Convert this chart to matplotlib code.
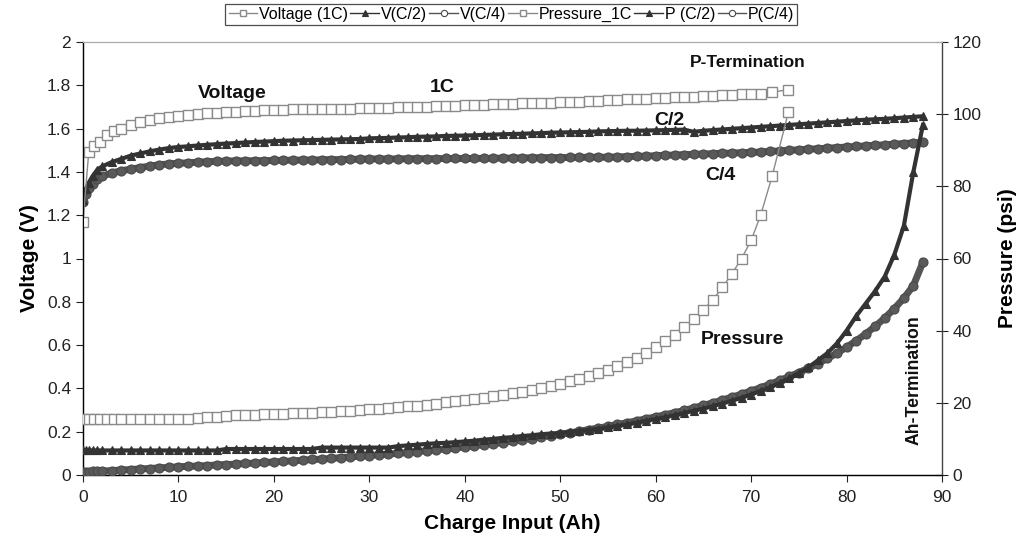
import matplotlib
matplotlib.use("Agg")
import matplotlib.pyplot as plt
from matplotlib.lines import Line2D

plt.rcParams['font.family'] = ['Liberation Sans', 'DejaVu Sans']

# ---------------- data ----------------
# 1C charge (voltage and pressure share the charge-input axis)
ah_1c = [0, 0.6, 1.2, 1.8, 2.5, 3.2, 4, 5, 6, 7, 8, 9, 10, 11, 12, 13, 14, 15, 16, 17,
         18, 19, 20, 21, 22, 23, 24, 25, 26, 27, 28, 29, 30, 31, 32, 33, 34, 35, 36, 37,
         38, 39, 40, 41, 42, 43, 44, 45, 46, 47, 48, 49, 50, 51, 52, 53, 54, 55, 56, 57,
         58, 59, 60, 61, 62, 63, 64, 65, 66, 67, 68, 69, 70, 71, 72.2, 73.9]
volt_1c = [1.17, 1.49, 1.52, 1.54, 1.57, 1.59, 1.60, 1.615, 1.63, 1.64, 1.648, 1.655, 1.66,
           1.665, 1.668, 1.671, 1.674, 1.676, 1.678, 1.68, 1.682, 1.684, 1.686, 1.688, 1.69,
           1.69, 1.69, 1.69, 1.69, 1.692, 1.692, 1.694, 1.695, 1.696, 1.697, 1.698, 1.699,
           1.70, 1.701, 1.703, 1.704, 1.706, 1.707, 1.709, 1.71, 1.712, 1.713, 1.715, 1.716,
           1.718, 1.719, 1.72, 1.722, 1.723, 1.725, 1.726, 1.728, 1.73, 1.732, 1.735, 1.736,
           1.738, 1.74, 1.742, 1.744, 1.746, 1.748, 1.75, 1.752, 1.754, 1.756, 1.758, 1.76,
           1.762, 1.768, 1.78]
pres_1c = [15.6, 15.6, 15.6, 15.6, 15.6, 15.6, 15.6, 15.6, 15.6, 15.6, 15.6, 15.6, 15.6,
           15.6, 15.8, 16.0, 16.2, 16.4, 16.5, 16.6, 16.7, 16.8, 16.9, 17.0, 17.1, 17.2,
           17.3, 17.4, 17.5, 17.7, 17.8, 18.0, 18.2, 18.4, 18.6, 18.8, 19.0, 19.2, 19.5,
           19.8, 20.1, 20.4, 20.7, 21.0, 21.4, 21.8, 22.2, 22.6, 23.1, 23.6, 24.1, 24.7,
           25.3, 26.0, 26.7, 27.5, 28.3, 29.2, 30.2, 31.3, 32.5, 33.9, 35.4, 37.0, 38.9,
           41.0, 43.3, 45.8, 48.6, 52.0, 55.8, 60.0, 65.0, 72.0, 82.8, 100.5]

# C/2 and C/4 charges
ah_slow = [0, 0.3, 0.6, 1, 1.5, 2, 3, 4, 5, 6, 7, 8, 9, 10, 11, 12, 13, 14, 15, 16, 17,
           18, 19, 20, 21, 22, 23, 24, 25, 26, 27, 28, 29, 30, 31, 32, 33, 34, 35, 36, 37,
           38, 39, 40, 41, 42, 43, 44, 45, 46, 47, 48, 49, 50, 51, 52, 53, 54, 55, 56, 57,
           58, 59, 60, 61, 62, 63, 64, 65, 66, 67, 68, 69, 70, 71, 72, 73, 74, 75, 76, 77,
           78, 79, 80, 81, 82, 83, 84, 85, 86, 87, 88]
volt_c2 = [1.27, 1.32, 1.35, 1.38, 1.41, 1.425, 1.445, 1.46, 1.475, 1.485, 1.495, 1.503,
           1.51, 1.515, 1.518, 1.522, 1.525, 1.528, 1.531, 1.533, 1.536, 1.538, 1.54, 1.542,
           1.544, 1.545, 1.546, 1.547, 1.548, 1.549, 1.55, 1.551, 1.552, 1.555, 1.556,
           1.557, 1.559, 1.56, 1.562, 1.563, 1.564, 1.566, 1.567, 1.568, 1.569, 1.571,
           1.572, 1.574, 1.575, 1.576, 1.578, 1.579, 1.581, 1.582, 1.583, 1.584, 1.585,
           1.587, 1.588, 1.589, 1.59, 1.59, 1.591, 1.592, 1.593, 1.594, 1.595, 1.585, 1.59,
           1.593, 1.596, 1.599, 1.602, 1.605, 1.608, 1.611, 1.614, 1.617, 1.62, 1.623,
           1.626, 1.629, 1.632, 1.635, 1.638, 1.641, 1.643, 1.645, 1.648, 1.651, 1.654, 1.657]
volt_c4 = [1.26, 1.30, 1.325, 1.345, 1.365, 1.38, 1.395, 1.405, 1.413, 1.42, 1.427, 1.433,
           1.437, 1.44, 1.442, 1.445, 1.447, 1.449, 1.45, 1.451, 1.451, 1.452, 1.452, 1.453,
           1.454, 1.454, 1.455, 1.455, 1.456, 1.457, 1.457, 1.458, 1.459, 1.46, 1.46, 1.46,
           1.46, 1.461, 1.461, 1.461, 1.461, 1.462, 1.462, 1.462, 1.462, 1.463, 1.463,
           1.464, 1.464, 1.465, 1.465, 1.466, 1.466, 1.466, 1.467, 1.467, 1.468, 1.468,
           1.468, 1.469, 1.471, 1.472, 1.473, 1.475, 1.477, 1.478, 1.48, 1.481, 1.483,
           1.484, 1.486, 1.487, 1.489, 1.49, 1.492, 1.495, 1.497, 1.5, 1.502, 1.505, 1.507,
           1.51, 1.512, 1.515, 1.518, 1.52, 1.523, 1.525, 1.528, 1.531, 1.534, 1.537]
pres_c2 = [6.8, 6.8, 6.8, 6.8, 6.8, 6.8, 6.8, 6.8, 6.8, 6.8, 6.8, 6.8, 6.8, 6.8, 6.8, 6.8,
           6.8, 6.8, 7.2, 7.2, 7.2, 7.2, 7.2, 7.2, 7.2, 7.2, 7.2, 7.2, 7.6, 7.6, 7.6, 7.6,
           7.6, 7.6, 7.6, 7.6, 8.0, 8.2, 8.4, 8.6, 8.8, 8.9, 9.1, 9.3, 9.5, 9.8, 10.0, 10.3,
           10.5, 10.8, 11.0, 11.3, 11.5, 11.6, 11.9, 12.2, 12.5, 12.8, 13.2, 13.6, 14.0,
           14.5, 15.0, 15.5, 16.0, 16.6, 17.2, 17.8, 18.4, 19.1, 19.8, 20.6, 21.4, 22.3,
           23.3, 24.3, 25.5, 26.8, 28.2, 29.8, 31.8, 33.8, 36.5, 40.0, 44.0, 47.5, 51.0,
           55.0, 61.0, 69.0, 84.0, 97.0]
pres_c4 = [0.8, 0.8, 0.9, 1.0, 1.05, 1.1, 1.2, 1.4, 1.5, 1.7, 1.8, 2.0, 2.1, 2.3, 2.4, 2.5,
           2.6, 2.8, 2.9, 3.0, 3.2, 3.3, 3.5, 3.6, 3.8, 3.9, 4.1, 4.3, 4.4, 4.6, 4.8, 5.0,
           5.2, 5.4, 5.6, 5.8, 6.0, 6.2, 6.5, 6.7, 7.0, 7.2, 7.5, 7.8, 8.1, 8.4, 8.7, 9.0,
           9.4, 9.7, 10.1, 10.5, 10.9, 11.3, 11.7, 12.1, 12.6, 13.0, 13.5, 14.0, 14.5, 15.0,
           15.6, 16.1, 16.7, 17.3, 17.9, 18.6, 19.3, 20.0, 20.8, 21.6, 22.4, 23.3, 24.2,
           25.2, 26.2, 27.3, 28.4, 29.6, 30.9, 32.3, 33.8, 35.4, 37.2, 39.1, 41.2, 43.5,
           46.1, 49.0, 52.5, 59.0]

x_ticks = [0, 10, 20, 30, 40, 50, 60, 70, 80, 90]
v_ticks = [0, 0.2, 0.4, 0.6, 0.8, 1.0, 1.2, 1.4, 1.6, 1.8, 2.0]
v_tick_labels = ['0', '0.2', '0.4', '0.6', '0.8', '1', '1.2', '1.4', '1.6', '1.8', '2']
p_ticks = [0, 20, 40, 60, 80, 100, 120]

legend_labels = ['Voltage (1C)', 'V(C/2)', 'V(C/4)', 'Pressure_1C', 'P (C/2)', 'P(C/4)']

# ---------------- styles ----------------
c_1c = '#8a8a8a'
c_c2 = '#333333'
c_c4 = '#555555'

st_1c = dict(color=c_1c, lw=1.0, marker='s', ms=7, mfc='white', mec=c_1c, mew=1.0)
st_c2 = dict(color=c_c2, lw=3.0, marker='^', ms=5.5, mfc=c_c2, mec=c_c2, mew=0.8)
st_c4 = dict(color=c_c4, lw=5.0, marker='o', ms=6.5, mfc='#5a5a5a', mec='#4a4a4a', mew=0.8)

fig = plt.figure(figsize=(10.29, 5.49), dpi=100)
ax = fig.add_axes([83/1029, 1 - 475/549, (942 - 83)/1029, (475 - 42)/549])
ax2 = ax.twinx()

ax.plot(ah_slow, volt_c4, zorder=3, **st_c4)
ax.plot(ah_slow, volt_c2, zorder=4, **st_c2)
ax.plot(ah_1c, volt_1c, zorder=5, **st_1c)

ax2.plot(ah_slow, pres_c4, zorder=3, **st_c4)
ax2.plot(ah_slow, pres_c2, zorder=4, **st_c2)
ax2.plot(ah_1c, pres_1c, zorder=5, **st_1c)

ax.set_xlim(0, 90)
ax.set_ylim(0, 2)
ax2.set_ylim(0, 120)

ax.set_xticks(x_ticks)
ax.set_yticks(v_ticks)
ax.set_yticklabels(v_tick_labels)
ax2.set_yticks(p_ticks)

ax.tick_params(axis='both', labelsize=12.5, direction='out', length=5, width=0.8, colors='#222222')
ax2.tick_params(axis='y', labelsize=12.5, direction='inout', length=8, width=0.8, colors='#222222')
ax.tick_params(axis='x', pad=6)

for s in ['left', 'bottom']:
    ax.spines[s].set_color('#222222')
    ax.spines[s].set_linewidth(1.0)
ax2.spines['right'].set_color('#444444')
ax2.spines['right'].set_linewidth(1.0)
ax.spines['top'].set_color('#aaaaaa')
ax2.spines['top'].set_color('#aaaaaa')
ax.spines['right'].set_visible(False)

ax.set_xlabel('Charge Input (Ah)', fontsize=15, fontweight='bold', labelpad=6)
ax.set_ylabel('Voltage (V)', fontsize=15, fontweight='bold', labelpad=6)
ax2.set_ylabel('Pressure (psi)', fontsize=15, fontweight='bold', labelpad=12)

ann = dict(fontweight='bold', ha='center', va='center', color='#111111')
ax.text(15.6, 1.76, 'Voltage', fontsize=14, **ann)
ax.text(37.6, 1.79, '1C', fontsize=14, **ann)
ax.text(69.6, 1.905, 'P-Termination', fontsize=12.5, **ann)
ax.text(61.4, 1.637, 'C/2', fontsize=14, **ann)
ax.text(66.8, 1.384, 'C/4', fontsize=14, **ann)
ax.text(69.1, 0.625, 'Pressure', fontsize=14, **ann)
ax.text(87.05, 0.44, 'Ah-Termination', fontsize=12.7, rotation=90, **ann)

handles = [
    Line2D([], [], **{**st_1c, 'ms': 5}),
    Line2D([], [], **{**st_c2, 'lw': 1.0, 'ms': 4.5}),
    Line2D([], [], **{**st_c4, 'lw': 1.0, 'mfc': 'white', 'ms': 4.5}),
    Line2D([], [], **{**st_1c, 'ms': 5}),
    Line2D([], [], **{**st_c2, 'lw': 1.0, 'ms': 4.5}),
    Line2D([], [], **{**st_c4, 'lw': 1.0, 'mfc': 'white', 'ms': 4.5}),
]
leg = fig.legend(handles, legend_labels, loc='center', bbox_to_anchor=(0.497, 0.974),
                 ncol=6, fontsize=11.5, frameon=True, fancybox=False, edgecolor='#222222',
                 handlelength=1.8, handletextpad=0.1, columnspacing=0.15,
                 borderpad=0.2, borderaxespad=0)
leg.get_frame().set_linewidth(0.9)

fig.savefig('out.png', dpi=100)
